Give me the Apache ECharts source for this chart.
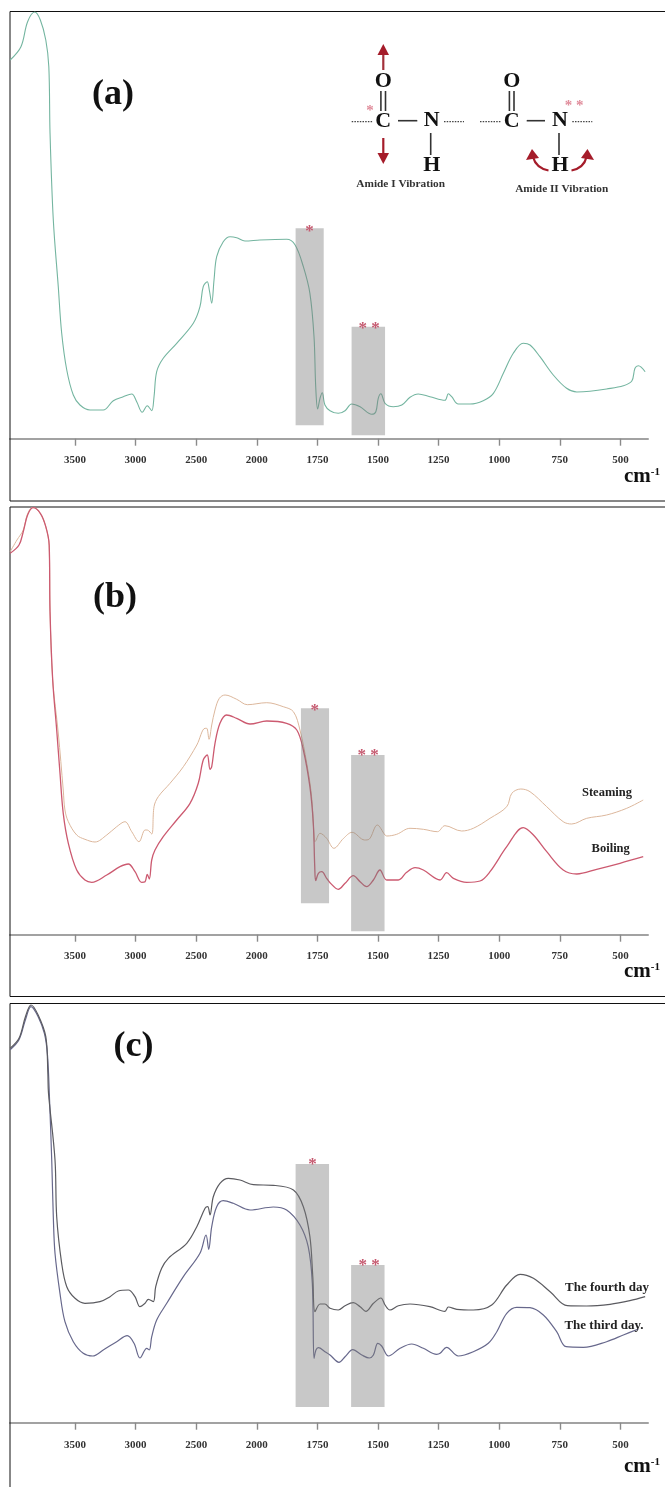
<!DOCTYPE html>
<html><head><meta charset="utf-8">
<style>html,body{margin:0;padding:0;background:#fff}#c{width:665px;height:1487px}#c canvas{filter:blur(.4px)}</style>
<script src="https://cdn.jsdelivr.net/npm/echarts@6/dist/echarts.min.js"></script>
</head><body><div id="c"></div>
<script>
const tickLabels=['3500','3000','2500','2000','1750','1500','1250','1000','750','500'];
const tickWaves=[3500,3000,2500,2000,1750,1500,1250,1000,750,500];
// [wavenumber (cm-1), transmittance (arbitrary units)]
const spectrumA=[[4035,378.7],[3946,392],[3891,417],[3832,426.7],[3786,418.7],[3741,398.7],[3716,372],[3706,305.7],[3679,218.7],[3638,152],[3610,105.7],[3568,68.7],[3514,43.7],[3459,33.7],[3376,28.7],[3267,28.7],[3184,38],[3102,42],[3032,44.7],[2991,37],[2945,26.4],[2904,33],[2867,28],[2848,42],[2826,67],[2772,80.4],[2661,95.4],[2524,115.4],[2469,132],[2442,152],[2409,157],[2392,148.7],[2372,135.4],[2353,158.7],[2331,182],[2277,197],[2221,202],[2166,201],[2098,197.7],[1987,198.7],[1877,199.4],[1842,193.7],[1808,172],[1781,145.4],[1764,102],[1757,52],[1749,29.7],[1739,40.7],[1730,46],[1719,33.7],[1698,28],[1664,25.4],[1636,28],[1609,34.7],[1574,32],[1526,24.4],[1509,27],[1499,40.4],[1488,45],[1471,35.4],[1437,32],[1402,33.7],[1368,41.4],[1334,44.7],[1286,42],[1224,38.4],[1210,45],[1196,42],[1169,34.7],[1121,34.7],[1066,38],[1024,45.4],[983,65.4],[942,85.4],[901,95.4],[873,93.7],[832,82],[777,63.7],[722,50.4],[680,46.7],[626,47.4],[557,49.7],[488,53],[453,57.7],[440,70.4],[426,73],[398,67]];
const boiling=[[4035,381.4],[3962,389.7],[3927,403],[3891,419.7],[3847,427],[3786,421.4],[3741,408],[3713,389.7],[3706,323],[3684,254.7],[3651,204.7],[3624,161.7],[3597,121.4],[3555,91.4],[3486,64.7],[3418,54.7],[3362,52.4],[3238,59.7],[3129,68],[3060,70.7],[3005,63],[2950,52.4],[2922,53],[2904,60.4],[2887,55.7],[2867,74.7],[2840,84.7],[2772,98],[2661,114.7],[2551,131.4],[2483,151.4],[2442,174.7],[2409,179.7],[2386,165.4],[2372,168],[2345,191.4],[2304,211.4],[2249,219.7],[2166,216.4],[2056,210.7],[1959,213.7],[1877,211.4],[1835,204.7],[1808,184.7],[1781,148],[1767,111.4],[1761,68],[1757,54],[1746,61.4],[1732,63],[1712,56.4],[1698,52],[1664,45.4],[1636,51.4],[1602,59],[1574,53],[1547,48],[1519,54.7],[1492,64.7],[1464,54.7],[1416,54.7],[1382,62.4],[1347,67],[1313,64.7],[1244,54.7],[1217,62],[1189,56.4],[1134,52.4],[1079,53.7],[1038,63],[969,88],[901,107],[859,99.7],[804,83],[736,64.7],[680,60.7],[598,65.4],[502,71.4],[406,78]];
const steaming=[[4035,383],[3979,394.7],[3927,404.7],[3891,421],[3847,427.5],[3786,421],[3741,408],[3713,389],[3706,323],[3684,254.7],[3638,201.7],[3597,144.7],[3583,124.7],[3555,113],[3486,99.7],[3418,95.4],[3335,92.7],[3238,99.7],[3156,108],[3088,113],[3032,103],[2972,93],[2922,104.7],[2904,104.7],[2867,100.7],[2848,128],[2813,138],[2716,151.4],[2606,168],[2495,189.7],[2427,206.4],[2413,206.4],[2394,195.4],[2372,209.7],[2345,224.7],[2309,236.4],[2262,239.7],[2166,235.4],[2078,230],[1959,232],[1891,228],[1849,223],[1822,204.7],[1794,171.4],[1774,138],[1763,94.7],[1761,93],[1739,101.4],[1712,96.4],[1682,86.4],[1642,96.4],[1607,102.4],[1555,94.7],[1537,95.4],[1503,109.7],[1471,99.7],[1464,98.7],[1423,100.4],[1368,106.4],[1313,105.4],[1255,103],[1224,109],[1155,103.7],[1107,106.4],[1038,116.4],[969,128],[948,141.4],[911,145.7],[873,143],[804,128],[736,113],[701,110.7],[639,116.4],[557,119.7],[474,126.4],[406,134.7]];
const fourthDay=[[4035,374.4],[3962,384.4],[3909,406],[3863,417.7],[3804,407.7],[3741,386],[3724,349.7],[3719,330],[3665,262.7],[3651,206],[3610,159.4],[3568,136],[3500,124.4],[3418,119.4],[3294,121],[3211,126],[3143,131.7],[3060,132.7],[3005,126],[2964,116],[2922,119.4],[2895,123.4],[2854,121],[2834,136],[2785,154.4],[2730,164.4],[2578,179.4],[2495,196],[2427,214.4],[2405,216],[2386,207.7],[2359,226],[2304,239.4],[2235,244.4],[2139,242.7],[2029,238],[1932,237.4],[1849,232.7],[1808,216],[1781,186],[1769,146],[1760,111],[1739,118.7],[1719,118.7],[1698,114.4],[1664,112.7],[1636,117],[1602,120],[1574,116],[1550,111.4],[1519,119.4],[1488,124.7],[1471,117.7],[1451,112.7],[1416,117],[1368,118.7],[1286,116],[1224,111.4],[1210,115.7],[1175,113.4],[1107,112.7],[1031,117.7],[969,137.7],[914,148.4],[859,144.4],[790,131],[719,117],[639,116.7],[543,118.4],[461,122],[398,126]];
const thirdDay=[[4035,373],[3962,383],[3909,403],[3863,416],[3804,406],[3752,389],[3727,367.7],[3710,322.7],[3692,262.7],[3679,206],[3665,169.4],[3624,129.4],[3583,101],[3514,81],[3432,69.4],[3354,66.7],[3267,72.7],[3156,81],[3069,87],[3013,79.4],[2964,64.7],[2908,74.4],[2887,72.7],[2867,86],[2826,102.7],[2743,119.4],[2606,146],[2469,169.4],[2419,187.7],[2397,173.4],[2372,196],[2331,216],[2277,222],[2194,219.4],[2056,212.7],[1932,215.7],[1877,212.7],[1822,197.7],[1788,176],[1771,139.4],[1764,64.4],[1756,72.7],[1746,75],[1719,71],[1698,67.7],[1661,60.4],[1636,66],[1604,73],[1567,67.7],[1536,64.7],[1519,67.7],[1501,79.4],[1485,76.7],[1457,66.7],[1409,74.4],[1361,78.7],[1313,74.4],[1258,68.4],[1244,69.4],[1217,75.4],[1169,66.7],[1107,71],[1045,79.4],[1010,91],[969,109.4],[928,115.4],[873,115],[818,107.7],[763,91],[724,76],[653,75.4],[557,81],[488,87.7],[426,93.7]];
// highlighted bands: [wave high, wave low, value top, value bottom]
const bandsA=[[1840,1724,210.4,13.4],[1609,1471,112,3.4]];
const bandsB=[[1818,1702,226.4,31.4],[1611,1473,179.7,3.4]];
const bandsC=[[1840,1702,258.7,15.7],[1611,1473,157.7,15.7]];

// The printed axis changes its scale at 2000 cm-1: 500 per tick above, 250 per tick below.
function axisPos(w){return w>=2000?(3500-w)/500:3+(2000-w)/250;}

const panels=[
 {axisY:438.7,h:427,bands:bandsA,series:[{d:spectrumA,c:'#74b5a0',w:1.1}]},
 {axisY:934.7,h:427,bands:bandsB,series:[{d:steaming,c:'#dcb79c',w:1},{d:boiling,c:'#cc5a70',w:1.3}]},
 {axisY:1422.7,h:418,bands:bandsC,series:[{d:thirdDay,c:'#67688c',w:1.2},{d:fourthDay,c:'#5b5b60',w:1.2}]}
];
const ticks=tickWaves.map(axisPos);
const grids=[],xAxes=[],yAxes=[],series=[];
panels.forEach((p,i)=>{
  grids.push({left:10,width:638,top:p.axisY-p.h,height:p.h});
  xAxes.push({type:'value',gridIndex:i,min:-1.0726,max:9.455,
    axisLine:{onZero:false,lineStyle:{color:'#a2a2a2',width:2}},
    axisTick:{length:7,customValues:ticks,lineStyle:{color:'#8a8a8a',width:1.4}},
    axisLabel:{customValues:ticks,margin:i==2?17:16,fontFamily:'Liberation Serif',fontWeight:'bold',fontSize:11,color:'#333',
      formatter:v=>tickLabels[ticks.findIndex(t=>Math.abs(t-v)<1e-6)]||''},
    splitLine:{show:false}});
  yAxes.push({type:'value',gridIndex:i,min:0,max:p.h,show:false});
  p.series.forEach(s=>series.push({type:'line',xAxisIndex:i,yAxisIndex:i,showSymbol:false,smooth:0.35,
    data:s.d.map(q=>[axisPos(q[0]),q[1]]),lineStyle:{color:s.c,width:s.w},z:3}));
  series.push({type:'line',xAxisIndex:i,yAxisIndex:i,data:[],z:6,silent:true,
    markArea:{silent:true,z:6,itemStyle:{color:'rgba(125,125,125,0.42)'},
      data:p.bands.map(b=>[{xAxis:axisPos(b[0]),yAxis:b[2]},{xAxis:axisPos(b[1]),yAxis:b[3]}])}});
});

const SERIF='Liberation Serif';
const T=(text,x,y,size,color='#111',extra={})=>({type:'text',z:20,style:Object.assign({text,x,y,font:`bold ${size}px "${SERIF}"`,fill:color,align:'center',verticalAlign:'middle'},extra)});
const L=(x1,y1,x2,y2,color='#333',lw=1.6,dash)=>({type:'line',z:20,shape:{x1,y1,x2,y2},style:{stroke:color,lineWidth:lw,lineDash:dash||null}});
const P=(pts,color='#a51c2a')=>({type:'polygon',z:20,shape:{points:pts},style:{fill:color}});
const C=(x1,y1,cx,cy,x2,y2,color='#a51c2a')=>({type:'bezierCurve',z:20,shape:{x1,y1,x2,y2,cpx1:cx,cpy1:cy},style:{stroke:color,lineWidth:2.2,fill:null}});
const frame=(y,h)=>({type:'rect',z:1,shape:{x:10,y,width:720,height:h},style:{fill:null,stroke:'#111',lineWidth:1}});
const cm=(y)=>({type:'text',z:20,style:{x:624,y,verticalAlign:'middle',text:'{m|cm}{s|-1}',rich:{
  m:{font:`bold 21px "${SERIF}"`,fill:'#111',verticalAlign:'bottom'},
  s:{font:`bold 11px "${SERIF}"`,fill:'#111',verticalAlign:'top',padding:[0,0,9,0]}}}});
const star='#c65a70';
const graphics=[
 frame(11.5,489.5),frame(507,489.5),frame(1003.5,520),
 T('(a)',113,95,36),T('(b)',115,598,36),T('(c)',133.6,1047,36),
 cm(476.7),cm(972),cm(1466.7),
 T('Steaming',607,792.7,12.5,'#222'),T('Boiling',610.7,849,12.5,'#222'),
 T('The fourth day',607,1288,13,'#222'),T('The third day.',604,1326,13,'#222'),
 // amide structures
 T('O',383.3,81.7,22),T('C',383.3,121.7,22),T('N',431.7,120.5,22),T('H',431.7,165,22),
 T('O',511.7,81.7,22),T('C',511.7,121.7,22),T('N',560,120.5,22),T('H',560,165,22),
 L(380.9,91,380.9,111),L(385.5,91,385.5,111),L(398,120.7,417.3,120.7),L(430.7,133,430.7,155),
 L(509.4,91,509.4,111),L(514,91,514,111),L(526.7,120.7,545,120.7),L(559,133,559,155),
 L(351.7,121.7,373,121.7,'#444',1.2,[1.5,1.2]),L(444,121.7,464,121.7,'#444',1.2,[1.5,1.2]),
 L(480,121.7,501.5,121.7,'#444',1.2,[1.5,1.2]),L(572.3,121.7,592.3,121.7,'#444',1.2,[1.5,1.2]),
 L(383.3,70,383.3,52,'#a3303a',2.2),P([[383.3,44],[377.5,55],[389,55]]),
 L(383.3,138,383.3,155,'#a51c2a',2.2),P([[383.3,164],[377.5,153],[389,153]]),
 C(548.5,170.5,536,168,533,157),P([[532,149],[526,160],[539,158]]),
 C(571.5,170.5,584,168,586.5,157),P([[587.5,149],[581,158],[594,160]]),
 T('Amide I Vibration',400.7,184,11.3,'#333'),T('Amide II Vibration',561.7,189.3,11.3,'#333'),
 T('*',370,111,15,'#e08b9a'),T('* *',574,106,15,'#e08b9a'),
 // band markers
 T('*',309.6,232,17,star),T('* *',369,328.5,17,star),
 T('*',314.7,710.5,17,star),T('* *',368,756,17,star),
 T('*',312.5,1165,17,star),T('* *',369,1265.5,17,star)
];
const chart=echarts.init(document.getElementById('c'),null,{renderer:'canvas'});
chart.setOption({animation:false,backgroundColor:'#fff',grid:grids,xAxis:xAxes,yAxis:yAxes,series,graphic:graphics});
</script></body></html>
